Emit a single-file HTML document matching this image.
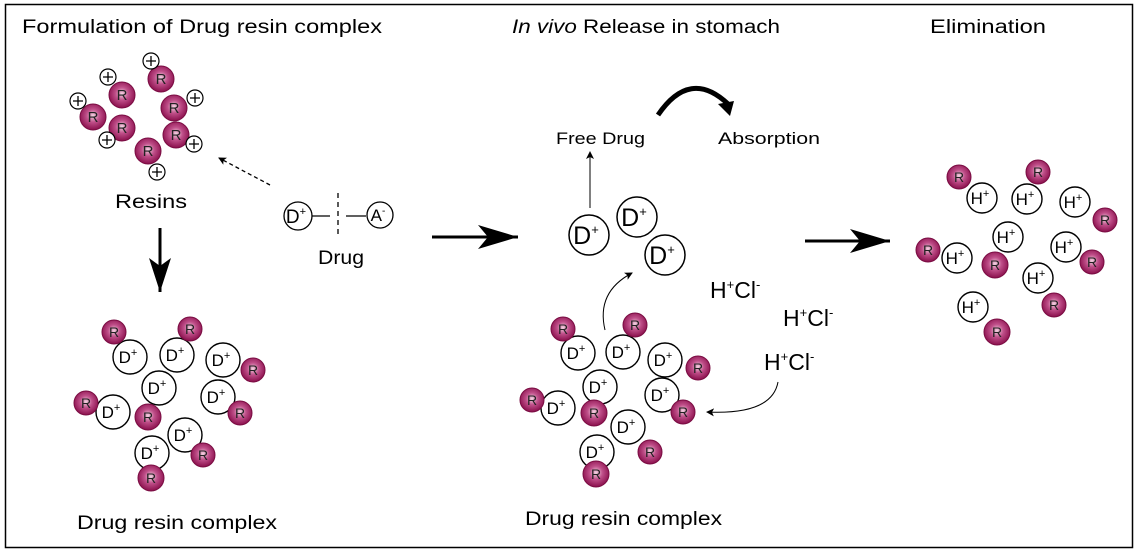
<!DOCTYPE html>
<html><head><style>body{margin:0;background:#fff}svg{display:block}</style></head><body>
<svg width="1138" height="554" viewBox="0 0 1138 554" xmlns="http://www.w3.org/2000/svg" font-family="Liberation Sans, sans-serif">
<defs>
<radialGradient id="rg" cx="0.5" cy="0.45" r="0.55"><stop offset="0" stop-color="#f4d6e4"/><stop offset="0.45" stop-color="#c0508a"/><stop offset="1" stop-color="#8a0f4c"/></radialGradient>
<marker id="ah" markerWidth="8" markerHeight="8" refX="7" refY="4" orient="auto" markerUnits="userSpaceOnUse"><path d="M0,0 L8,4 L0,8 L2,4z" fill="#000"/></marker>
</defs>
<rect x="5.5" y="4.5" width="1127" height="543" fill="none" stroke="#000" stroke-width="1.5"/>
<g font-size="19" fill="#000">
<text x="22" y="33" textLength="360" lengthAdjust="spacingAndGlyphs">Formulation of Drug resin complex</text>
<text x="512" y="33" textLength="268" lengthAdjust="spacingAndGlyphs"><tspan font-style="italic">In vivo</tspan> Release in stomach</text>
<text x="930" y="33" textLength="116" lengthAdjust="spacingAndGlyphs">Elimination</text>
</g>
<g font-size="15">
<g fill="url(#rg)" stroke="#7a0c42" stroke-width="1">
<circle cx="161" cy="79" r="13"/><circle cx="122" cy="95" r="13"/><circle cx="174" cy="108" r="13"/><circle cx="93" cy="117" r="13"/><circle cx="122" cy="128" r="13"/><circle cx="176" cy="135" r="13"/><circle cx="148" cy="151" r="13"/>
</g>
<g text-anchor="middle" fill="#222">
<text x="161" y="84">R</text><text x="122" y="100">R</text><text x="174" y="113">R</text><text x="93" y="122">R</text><text x="122" y="133">R</text><text x="176" y="140">R</text><text x="148" y="156">R</text>
</g>
<g fill="#fff" stroke="#000" stroke-width="1.2">
<circle cx="151" cy="61" r="8"/><circle cx="108" cy="77" r="8"/><circle cx="195" cy="98" r="8"/><circle cx="78" cy="101" r="8"/><circle cx="107" cy="140" r="8"/><circle cx="194" cy="144" r="8"/><circle cx="157" cy="172" r="8"/>
</g>
<g stroke="#000" stroke-width="1.3">
<path d="M146,61h10M151,56v10M103,77h10M108,72v10M190,98h10M195,93v10M73,101h10M78,96v10M102,140h10M107,135v10M189,144h10M194,139v10M152,172h10M157,167v10"/>
</g>
</g>
<text x="115" y="208" font-size="19" textLength="72" lengthAdjust="spacingAndGlyphs">Resins</text>
<line x1="270" y1="185" x2="219" y2="158" stroke="#000" stroke-width="1.3" stroke-dasharray="4,3" marker-end="url(#ah)"/>
<circle cx="298" cy="216" r="14" fill="none" stroke="#000" stroke-width="1.3"/>
<text x="296" y="223" font-size="19" text-anchor="middle">D<tspan font-size="11" dy="-8">+</tspan></text>
<line x1="312" y1="216" x2="330" y2="216" stroke="#000" stroke-width="1.3"/>
<line x1="338" y1="193" x2="338" y2="235" stroke="#000" stroke-width="1.3" stroke-dasharray="5,4"/>
<line x1="346" y1="216" x2="366" y2="216" stroke="#000" stroke-width="1.3"/>
<circle cx="380" cy="215" r="13" fill="none" stroke="#000" stroke-width="1.3"/>
<text x="378" y="221" font-size="17" text-anchor="middle">A<tspan font-size="10" dy="-7">-</tspan></text>
<text x="318" y="264" font-size="19" textLength="46" lengthAdjust="spacingAndGlyphs">Drug</text>
<line x1="160" y1="228" x2="160" y2="292" stroke="#000" stroke-width="3"/>
<path d="M149,258 L160,292 L171,258 L160,266z" fill="#000"/>

<g font-size="17" text-anchor="middle">
<g fill="#fff" stroke="#000" stroke-width="1.4">
<circle cx="130" cy="357" r="17"/><circle cx="177" cy="355" r="17"/><circle cx="223" cy="360" r="17"/><circle cx="159" cy="388" r="17"/><circle cx="113" cy="412" r="17"/><circle cx="218" cy="397" r="17"/><circle cx="185" cy="435" r="17"/><circle cx="152" cy="453" r="17"/>
<circle cx="578" cy="353" r="17"/><circle cx="623" cy="352" r="17"/><circle cx="665" cy="360" r="17"/><circle cx="600" cy="387" r="17"/><circle cx="558" cy="408" r="17"/><circle cx="662" cy="395" r="17"/><circle cx="628" cy="427" r="17"/><circle cx="597" cy="452" r="17"/>
<circle cx="982" cy="198" r="15"/><circle cx="1027" cy="199" r="15"/><circle cx="1075" cy="202" r="15"/><circle cx="1008" cy="237" r="15"/><circle cx="957" cy="258" r="15"/><circle cx="1066" cy="247" r="15"/><circle cx="1038" cy="278" r="15"/><circle cx="973" cy="307" r="15"/>
</g>
<g>
<text x="128" y="363">D<tspan font-size="11" dy="-7">+</tspan></text><text x="175" y="361">D<tspan font-size="11" dy="-7">+</tspan></text><text x="221" y="366">D<tspan font-size="11" dy="-7">+</tspan></text><text x="157" y="394">D<tspan font-size="11" dy="-7">+</tspan></text><text x="111" y="418">D<tspan font-size="11" dy="-7">+</tspan></text><text x="216" y="403">D<tspan font-size="11" dy="-7">+</tspan></text><text x="183" y="441">D<tspan font-size="11" dy="-7">+</tspan></text><text x="150" y="459">D<tspan font-size="11" dy="-7">+</tspan></text>
<text x="576" y="359">D<tspan font-size="11" dy="-7">+</tspan></text><text x="621" y="358">D<tspan font-size="11" dy="-7">+</tspan></text><text x="663" y="366">D<tspan font-size="11" dy="-7">+</tspan></text><text x="598" y="393">D<tspan font-size="11" dy="-7">+</tspan></text><text x="556" y="414">D<tspan font-size="11" dy="-7">+</tspan></text><text x="660" y="401">D<tspan font-size="11" dy="-7">+</tspan></text><text x="626" y="433">D<tspan font-size="11" dy="-7">+</tspan></text><text x="595" y="458">D<tspan font-size="11" dy="-7">+</tspan></text>
<text x="980" y="204">H<tspan font-size="11" dy="-7">+</tspan></text><text x="1025" y="205">H<tspan font-size="11" dy="-7">+</tspan></text><text x="1073" y="208">H<tspan font-size="11" dy="-7">+</tspan></text><text x="1006" y="243">H<tspan font-size="11" dy="-7">+</tspan></text><text x="955" y="264">H<tspan font-size="11" dy="-7">+</tspan></text><text x="1064" y="253">H<tspan font-size="11" dy="-7">+</tspan></text><text x="1036" y="284">H<tspan font-size="11" dy="-7">+</tspan></text><text x="971" y="313">H<tspan font-size="11" dy="-7">+</tspan></text>
</g>
<g fill="url(#rg)" stroke="#7a0c42" stroke-width="1">
<circle cx="114" cy="332" r="12"/><circle cx="190" cy="329" r="12"/><circle cx="253" cy="370" r="12"/><circle cx="148" cy="417" r="13"/><circle cx="86" cy="403" r="12"/><circle cx="240" cy="413" r="12"/><circle cx="203" cy="455" r="12"/><circle cx="151" cy="478" r="13"/>
<circle cx="563" cy="329" r="12"/><circle cx="635" cy="325" r="12"/><circle cx="698" cy="368" r="12"/><circle cx="594" cy="413" r="13"/><circle cx="532" cy="400" r="12"/><circle cx="683" cy="412" r="12"/><circle cx="650" cy="452" r="12"/><circle cx="596" cy="474" r="13"/>
<circle cx="959" cy="177" r="12"/><circle cx="1038" cy="172" r="12"/><circle cx="1105" cy="220" r="12"/><circle cx="995" cy="265" r="13"/><circle cx="928" cy="250" r="12"/><circle cx="1092" cy="262" r="12"/><circle cx="1054" cy="305" r="12"/><circle cx="997" cy="332" r="13"/>
</g>
<g font-size="14" fill="#222">
<text x="114" y="337">R</text><text x="190" y="334">R</text><text x="253" y="375">R</text><text x="148" y="422">R</text><text x="86" y="408">R</text><text x="240" y="418">R</text><text x="203" y="460">R</text><text x="151" y="483">R</text>
<text x="563" y="334">R</text><text x="635" y="330">R</text><text x="698" y="373">R</text><text x="594" y="418">R</text><text x="532" y="405">R</text><text x="683" y="417">R</text><text x="650" y="457">R</text><text x="596" y="479">R</text>
<text x="959" y="182">R</text><text x="1038" y="177">R</text><text x="1105" y="225">R</text><text x="995" y="270">R</text><text x="928" y="255">R</text><text x="1092" y="267">R</text><text x="1054" y="310">R</text><text x="997" y="337">R</text>
</g>
</g>
<text x="77" y="529" font-size="19" textLength="200" lengthAdjust="spacingAndGlyphs">Drug resin complex</text>
<text x="525" y="525" font-size="19" textLength="197" lengthAdjust="spacingAndGlyphs">Drug resin complex</text>

<line x1="432" y1="237" x2="518" y2="237" stroke="#000" stroke-width="3"/>
<path d="M478,225 L518,237 L478,249 L488,237z" fill="#000"/>
<line x1="805" y1="241" x2="890" y2="241" stroke="#000" stroke-width="3"/>
<path d="M850,229 L890,241 L850,253 L860,241z" fill="#000"/>
<text x="556" y="144" font-size="17" textLength="89" lengthAdjust="spacingAndGlyphs">Free Drug</text>
<text x="718" y="144" font-size="17" textLength="102" lengthAdjust="spacingAndGlyphs">Absorption</text>
<line x1="590" y1="208" x2="590" y2="152" stroke="#000" stroke-width="1" marker-end="url(#ah)"/>
<path d="M658,115 Q690,68 728,104" fill="none" stroke="#000" stroke-width="5"/>
<path d="M718,104 L734,101 L730,116z" fill="#000"/>
<g fill="#fff" stroke="#000" stroke-width="1.5">
<circle cx="589" cy="235" r="20"/><circle cx="637" cy="217" r="20"/><circle cx="665" cy="255" r="20"/>
</g>
<g font-size="25" text-anchor="middle">
<text x="586" y="244">D<tspan font-size="13" dy="-10">+</tspan></text>
<text x="634" y="226">D<tspan font-size="13" dy="-10">+</tspan></text>
<text x="662" y="264">D<tspan font-size="13" dy="-10">+</tspan></text>
</g>
<path d="M605,330 Q596,292 632,273" fill="none" stroke="#000" stroke-width="1" marker-end="url(#ah)"/>
<g font-size="23">
<text x="710" y="298">H<tspan font-size="13" dy="-9">+</tspan><tspan dy="9">Cl</tspan><tspan font-size="13" dy="-9">-</tspan></text>
<text x="783" y="326">H<tspan font-size="13" dy="-9">+</tspan><tspan dy="9">Cl</tspan><tspan font-size="13" dy="-9">-</tspan></text>
<text x="764" y="370">H<tspan font-size="13" dy="-9">+</tspan><tspan dy="9">Cl</tspan><tspan font-size="13" dy="-9">-</tspan></text>
</g>
<path d="M778,382 Q772,415 707,412" fill="none" stroke="#000" stroke-width="1" marker-end="url(#ah)"/>
</svg>
</body></html>
